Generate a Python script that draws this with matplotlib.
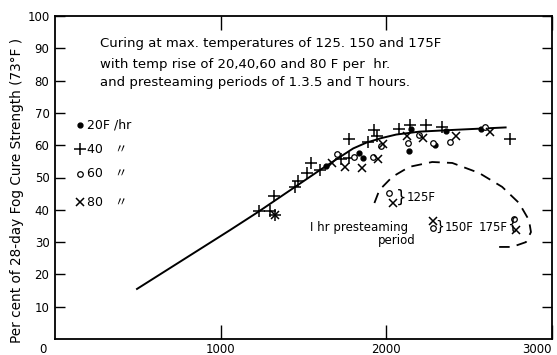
import numpy as np
import matplotlib.pyplot as plt

plt.rcParams['font.family'] = ['DejaVu Sans', 'Noto Sans CJK JP']

# fitted curve through the data
curve_x = [495, 754, 1056, 1225, 1599, 1740, 1800, 1880, 1970, 2060, 2200, 2430, 2720]
curve_y = [15.5, 23.9, 33.7, 39.3, 52.3, 57.0, 59.0, 60.8, 62.2, 63.3, 64.2, 64.8, 65.5]

# 20F/hr rise (filled dots)
r20_x = [1637, 1837, 1860, 2146, 2135, 2295, 2363, 2570]
r20_y = [53.6, 57.7, 56.0, 65.0, 58.3, 60.1, 64.5, 64.9]

# 40F/hr rise (plus)
r40_x = [1230, 1300, 1330, 1320, 1450, 1466, 1520, 1546, 1600, 1727, 1777,
         1773, 1887, 1928, 1942, 2078, 2142, 2239, 2339, 2745]
r40_y = [39.7, 39.6, 38.4, 44.3, 47.2, 48.9, 51.3, 54.6, 52.3, 55.7, 56.0,
         61.9, 60.9, 64.6, 62.9, 64.9, 66.3, 66.3, 65.7, 61.8]

# 60F/hr rise (open circles)
r60_x = [1701, 1807, 1920, 1970, 2133, 2195, 2279, 2384, 2594, 2018, 2281, 2771]
r60_y = [57.2, 56.3, 56.5, 59.8, 60.6, 63.2, 60.6, 60.9, 65.7, 45.3, 34.3, 37.3]

# 80F/hr rise (crosses)
r80_x = [1325, 1671, 1753, 1855, 1948, 1980, 2124, 2219, 2420, 2625, 2038, 2281, 2783]
r80_y = [38.5, 54.5, 53.2, 52.9, 55.7, 60.5, 62.8, 62.1, 62.7, 64.0, 42.2, 36.5, 33.7]

# dashed loop around the 1 hr presteaming points
loop_x = [1928, 1958, 2036, 2139, 2277, 2398, 2560, 2699, 2801, 2861, 2873, 2843, 2759, 2681]
loop_y = [42.1, 46.1, 50.2, 53.3, 54.8, 54.5, 51.4, 47.1, 42.1, 36.8, 33.1, 30.0, 28.5, 28.5]

fig = plt.figure(figsize=(5.57, 3.55), dpi=100)
ax = fig.add_axes([55 / 557, 16 / 355, 497 / 557, 323 / 355])

ax.plot(curve_x, curve_y, color='black', lw=1.4)
ax.plot(loop_x, loop_y, color='black', lw=1.3, dashes=(6, 4))

ax.plot(r20_x, r20_y, 'o', color='black', ms=3.5, ls='none')
ax.plot(r40_x, r40_y, '+', color='black', ms=8, mew=1.1, ls='none')
ax.plot(r60_x, r60_y, 'o', mfc='white', mec='black', ms=4, mew=0.9, ls='none')
ax.plot(r80_x, r80_y, 'x', color='black', ms=6, mew=1.1, ls='none')

ax.set_xlim(0, 3000)
ax.set_ylim(0, 100)
for s in ax.spines.values():
    s.set_linewidth(1.3)

ax.set_yticks(range(10, 101, 10))
ax.set_xticks([1000, 2000, 3000])
ax.set_xticklabels(['1000', '2000', '3000'])
ax.get_xticklabels()[2].set_horizontalalignment('right')
ax.tick_params(axis='y', direction='in', length=7, width=1, labelsize=8.5, pad=4,
               right=True)
ax.tick_params(axis='x', direction='in', length=10, width=1, labelsize=8.5, pad=3,
               top=True)
ax.text(-72, -3.4, '0', fontsize=8.5, ha='center', va='center', clip_on=False)

ax.text(-0.077, 0.46, 'Per cent of 28-day Fog Cure Strength (73°F )',
        transform=ax.transAxes, rotation=90, ha='center', va='center', fontsize=9.8)

ax.text(272, 91.6, 'Curing at max. temperatures of 125. 150 and 175F',
        fontsize=9.5, va='center')
ax.text(272, 85.1, 'with temp rise of 20,40,60 and 80 F per  hr.',
        fontsize=9.5, va='center')
ax.text(272, 79.3, 'and presteaming periods of 1.3.5 and T hours.',
        fontsize=9.5, va='center')

# legend
ax.plot(151, 66.3, 'o', color='black', ms=3.5)
ax.plot(151, 58.8, '+', color='black', ms=8, mew=1.1)
ax.plot(151, 51.1, 'o', mfc='white', mec='black', ms=4, mew=0.9)
ax.plot(151, 42.4, 'x', color='black', ms=6, mew=1.1)
ax.text(193, 66.3, '20F /hr', fontsize=9, va='center')
ax.text(193, 58.8, '40   〃', fontsize=9, va='center')
ax.text(193, 51.1, '60   〃', fontsize=9, va='center')
ax.text(193, 42.4, '80   〃', fontsize=9, va='center')

# annotations inside the loop
ax.text(2090, 43.8, '}', fontsize=12, ha='center', va='center')
ax.text(2120, 43.8, '125F', fontsize=8.5, va='center')
ax.text(1540, 34.4, 'I hr presteaming', fontsize=8.5, va='center')
ax.text(1950, 30.6, 'period', fontsize=8.5, va='center')
ax.text(2322, 34.8, '}', fontsize=10, ha='center', va='center')
ax.text(2352, 34.6, '150F', fontsize=8.5, va='center')
ax.text(2555, 34.6, '175F', fontsize=8.5, va='center')
ax.text(2758, 35.4, '{', fontsize=11, ha='center', va='center')

fig.savefig('out.png', dpi=100)
